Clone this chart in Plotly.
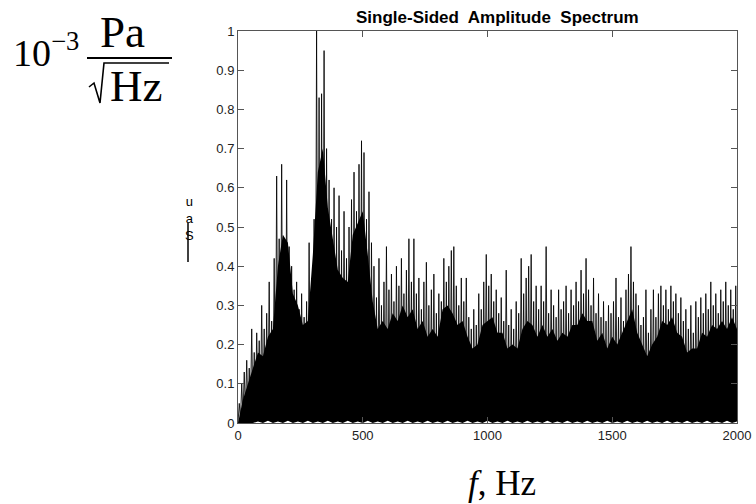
import numpy as np
import plotly.graph_objects as go

# ---------------- data ----------------
y_ticks = [0, 0.1, 0.2, 0.3, 0.4, 0.5, 0.6, 0.7, 0.8, 0.9, 1]
y_tick_text = ["0", "0.1", "0.2", "0.3", "0.4", "0.5", "0.6", "0.7", "0.8", "0.9", "1"]
x_ticks = [0, 500, 1000, 1500, 2000]
x_tick_text = ["0", "500", "1000", "1500", "2000"]

# Top of the dense (solid black) band, every 20 Hz from 0 to 2000 Hz
body_freq = list(range(0, 2001, 20))
body_amp = [
    0.00, 0.06, 0.10, 0.14, 0.18, 0.17, 0.22, 0.24, 0.40, 0.48,
    0.46, 0.33, 0.30, 0.25, 0.26, 0.43, 0.64, 0.70, 0.55, 0.47,
    0.39, 0.37, 0.36, 0.48, 0.51, 0.54, 0.43, 0.31, 0.24, 0.26,
    0.24, 0.28, 0.26, 0.30, 0.27, 0.29, 0.24, 0.26, 0.22, 0.24,
    0.22, 0.29, 0.30, 0.28, 0.25, 0.26, 0.22, 0.19, 0.20, 0.25,
    0.26, 0.27, 0.23, 0.23, 0.19, 0.20, 0.19, 0.24, 0.26, 0.25,
    0.22, 0.25, 0.22, 0.24, 0.21, 0.23, 0.22, 0.25, 0.25, 0.28,
    0.26, 0.26, 0.21, 0.23, 0.19, 0.22, 0.20, 0.23, 0.26, 0.29,
    0.23, 0.20, 0.17, 0.20, 0.22, 0.26, 0.25, 0.27, 0.23, 0.22,
    0.18, 0.19, 0.19, 0.23, 0.22, 0.25, 0.24, 0.26, 0.24, 0.27,
    0.24,
]
# Bottom of the dense band, every 20 Hz
floor_amp = [
    0.000, 0.000, 0.000, 0.000, 0.004, 0.000, 0.006, 0.000, 0.004, 0.000,
    0.006, 0.000, 0.004, 0.000, 0.006, 0.000, 0.004, 0.000, 0.006, 0.000,
    0.004, 0.000, 0.006, 0.000, 0.004, 0.000, 0.006, 0.000, 0.004, 0.000,
    0.006, 0.000, 0.004, 0.000, 0.006, 0.000, 0.004, 0.000, 0.006, 0.000,
    0.004, 0.000, 0.006, 0.000, 0.004, 0.000, 0.006, 0.000, 0.004, 0.000,
    0.006, 0.000, 0.004, 0.000, 0.006, 0.000, 0.004, 0.000, 0.006, 0.000,
    0.004, 0.000, 0.006, 0.000, 0.004, 0.000, 0.006, 0.000, 0.004, 0.000,
    0.006, 0.000, 0.004, 0.000, 0.006, 0.000, 0.004, 0.000, 0.006, 0.000,
    0.004, 0.000, 0.006, 0.000, 0.004, 0.000, 0.006, 0.000, 0.004, 0.000,
    0.006, 0.000, 0.004, 0.000, 0.006, 0.000, 0.004, 0.000, 0.006, 0.000,
    0.004,
]

# Spectrum crests (local maxima), at 5, 15, ..., 1995 Hz
crest_amp = [
    0.05, 0.10, 0.13, 0.16, 0.14, 0.24, 0.18, 0.23, 0.21, 0.30,
    0.24, 0.28, 0.36, 0.26, 0.42, 0.63, 0.47, 0.66, 0.45, 0.62,
    0.45, 0.40, 0.34, 0.36, 0.29, 0.33, 0.27, 0.31, 0.46, 0.37,
    0.52, 1.00, 0.83, 0.84, 0.95, 0.70, 0.62, 0.52, 0.60, 0.50,
    0.58, 0.44, 0.54, 0.42, 0.50, 0.57, 0.64, 0.54, 0.66, 0.72,
    0.69, 0.52, 0.59, 0.46, 0.40, 0.32, 0.42, 0.30, 0.36, 0.45,
    0.34, 0.38, 0.31, 0.40, 0.35, 0.42, 0.33, 0.39, 0.47, 0.36,
    0.47, 0.33, 0.37, 0.29, 0.36, 0.41, 0.30, 0.34, 0.38, 0.28,
    0.33, 0.31, 0.42, 0.36, 0.40, 0.44, 0.45, 0.35, 0.30, 0.37,
    0.31, 0.37, 0.27, 0.24, 0.29, 0.25, 0.33, 0.29, 0.36, 0.43,
    0.35, 0.38, 0.31, 0.34, 0.28, 0.32, 0.26, 0.39, 0.25, 0.29,
    0.24, 0.31, 0.28, 0.42, 0.33, 0.37, 0.40, 0.43, 0.31, 0.35,
    0.29, 0.35, 0.31, 0.45, 0.28, 0.34, 0.30, 0.27, 0.34, 0.29,
    0.31, 0.35, 0.28, 0.34, 0.30, 0.36, 0.31, 0.39, 0.33, 0.42,
    0.34, 0.30, 0.37, 0.28, 0.33, 0.27, 0.31, 0.26, 0.30, 0.28,
    0.31, 0.37, 0.27, 0.32, 0.26, 0.34, 0.38, 0.45, 0.36, 0.33,
    0.30, 0.25, 0.27, 0.34, 0.23, 0.29, 0.34, 0.27, 0.33, 0.35,
    0.30, 0.34, 0.29, 0.35, 0.31, 0.33, 0.28, 0.32, 0.26, 0.29,
    0.24, 0.30, 0.23, 0.31, 0.27, 0.32, 0.28, 0.33, 0.29, 0.36,
    0.30, 0.33, 0.28, 0.34, 0.31, 0.36, 0.30, 0.34, 0.29, 0.35,
]
# Spectrum troughs (local minima), at 0, 10, ..., 2000 Hz
trough_amp = [
    0.00, 0.01, 0.02, 0.03, 0.02, 0.04, 0.02, 0.03, 0.05, 0.02,
    0.03, 0.02, 0.04, 0.01, 0.03, 0.05, 0.02, 0.04, 0.03, 0.01,
    0.02, 0.04, 0.03, 0.01, 0.03, 0.02, 0.05, 0.03, 0.02, 0.04,
    0.03, 0.06, 0.04, 0.02, 0.05, 0.03, 0.07, 0.04, 0.02, 0.03,
    0.02, 0.04, 0.01, 0.03, 0.02, 0.05, 0.03, 0.02, 0.04, 0.02,
    0.03, 0.01, 0.02, 0.04, 0.02, 0.03, 0.01, 0.03, 0.02, 0.04,
    0.01, 0.03, 0.02, 0.01, 0.04, 0.02, 0.03, 0.01, 0.02, 0.03,
    0.02, 0.01, 0.03, 0.02, 0.04, 0.01, 0.02, 0.03, 0.01, 0.02,
    0.03, 0.02, 0.01, 0.03, 0.02, 0.04, 0.02, 0.01, 0.03, 0.02,
    0.01, 0.03, 0.02, 0.04, 0.01, 0.02, 0.03, 0.02, 0.01, 0.03,
    0.02, 0.04, 0.01, 0.02, 0.03, 0.01, 0.04, 0.02, 0.03, 0.01,
    0.03, 0.02, 0.01, 0.03, 0.02, 0.04, 0.02, 0.03, 0.01, 0.02,
    0.04, 0.02, 0.03, 0.01, 0.02, 0.03, 0.05, 0.02, 0.01, 0.03,
    0.02, 0.03, 0.01, 0.04, 0.02, 0.01, 0.03, 0.02, 0.04, 0.02,
    0.01, 0.02, 0.03, 0.02, 0.04, 0.02, 0.01, 0.03, 0.02, 0.01,
    0.03, 0.01, 0.02, 0.04, 0.02, 0.03, 0.02, 0.01, 0.03, 0.02,
    0.02, 0.03, 0.01, 0.02, 0.04, 0.01, 0.03, 0.02, 0.02, 0.04,
    0.01, 0.02, 0.03, 0.01, 0.02, 0.03, 0.02, 0.04, 0.01, 0.02,
    0.03, 0.02, 0.04, 0.02, 0.01, 0.03, 0.02, 0.01, 0.03, 0.02,
    0.02, 0.01, 0.03, 0.02, 0.04, 0.02, 0.03, 0.01, 0.02, 0.03,
    0.02,
]

# ---------------- build the spectrum line ----------------
spec_freq = np.arange(0, 2000.1, 5.0)
spec_amp = np.empty(len(spec_freq))
spec_amp[0::2] = trough_amp
spec_amp[1::2] = crest_amp

fig = go.Figure()
fig.add_trace(go.Scatter(x=body_freq, y=floor_amp, mode="lines",
                         line=dict(width=0, color="black"), hoverinfo="skip",
                         showlegend=False))
fig.add_trace(go.Scatter(x=body_freq, y=body_amp, mode="lines", fill="tonexty",
                         fillcolor="black", line=dict(width=0, color="black"),
                         hoverinfo="skip", showlegend=False))
fig.add_trace(go.Scatter(x=spec_freq, y=spec_amp, mode="lines",
                         line=dict(width=0.85, color="black"), showlegend=False))

# plot-area pixel geometry (used only to place the decorations)
L, R, T, B = 238, 737, 31, 423


def px(x):
    return (x - L) / (R - L)


def py(y):
    return (B - y) / (B - T)


serif = "Liberation Serif, Times New Roman, serif"
sans = "Liberation Sans, Arial, sans-serif"

annotations = [
    dict(text="<b>Single-Sided\u00a0 Amplitude\u00a0 Spectrum</b>", x=px(497), y=py(18),
         font=dict(family=sans, size=17, color="black")),
    dict(text="10<sup>\u22123</sup>", x=px(11), y=py(50), xanchor="left",
         font=dict(family=serif, size=38, color="black")),
    dict(text="Pa", x=px(122), y=py(32), font=dict(family=serif, size=45, color="black")),
    dict(text="Hz", x=px(136), y=py(86), font=dict(family=serif, size=45, color="black")),
    dict(text="u<br>a<br>S", x=px(189), y=py(218),
         font=dict(family=sans, size=13, color="black")),
    dict(text="<i>f</i>, Hz", x=px(502), y=py(484),
         font=dict(family=serif, size=35, color="black")),
]
for a in annotations:
    a.update(xref="paper", yref="paper", showarrow=False)
    a.setdefault("xanchor", "center")
    a.setdefault("yanchor", "middle")

radical = "M {} {} L {} {} L {} {} L {} {} L {} {}".format(
    px(89), py(87), px(94), py(83), px(100), py(103), px(104), py(63), px(169), py(63))

shapes = [
    dict(type="line", xref="paper", yref="paper", x0=px(87), x1=px(172),
         y0=py(58), y1=py(58), line=dict(color="black", width=2)),
    dict(type="path", xref="paper", yref="paper", path=radical,
         line=dict(color="black", width=1.6)),
    dict(type="line", xref="paper", yref="paper", x0=px(188), x1=px(188),
         y0=py(223), y1=py(262), line=dict(color="black", width=1.5)),
]

axis_common = dict(showline=True, linecolor="#555", linewidth=1, mirror="ticks",
                   ticks="inside", ticklen=6, tickcolor="#555", showgrid=False,
                   zeroline=False, tickfont=dict(family=sans, size=13, color="#222"))

fig.update_layout(
    width=756, height=504,
    margin=dict(l=L, r=756 - R, t=T, b=504 - B, pad=0, autoexpand=False),
    paper_bgcolor="white", plot_bgcolor="white",
    xaxis=dict(range=[0, 2000], tickvals=x_ticks, ticktext=x_tick_text, **axis_common),
    yaxis=dict(range=[0, 1], tickvals=y_ticks, ticktext=y_tick_text, **axis_common),
    annotations=annotations, shapes=shapes,
)

fig.write_html("out.html", config={"displayModeBar": False},
               post_script="document.body.style.margin='0px';document.body.style.padding='0px';")
